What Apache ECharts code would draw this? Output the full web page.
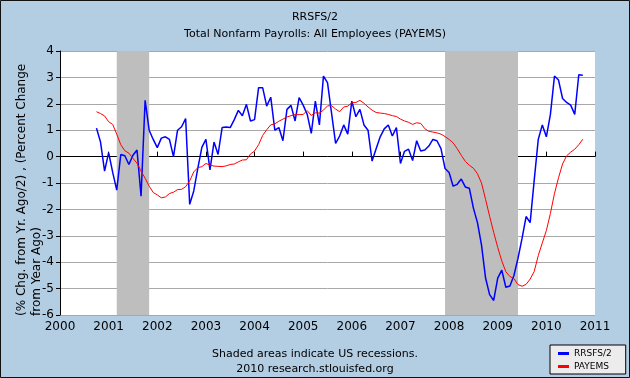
<!DOCTYPE html>
<html>
<head>
<meta charset="utf-8">
<script src="https://cdn.jsdelivr.net/npm/echarts@6/dist/echarts.min.js"></script>
<style>
  html, body { margin: 0; padding: 0; background: #b3cde3; }
  #chart { width: 630px; height: 378px; }
</style>
</head>
<body>
<div id="chart"></div>
<script>
// monthly data, Oct 2000 .. Oct 2010
var startYear = 2000
var startMonth = 10

var rrsfs = [
  1.08, 0.55, -0.55, 0.15, -0.6, -1.27, 0.08, 0.03, -0.3, 0.05, 0.25, -1.5,
  2.13, 1.0, 0.65, 0.34, 0.7, 0.75, 0.65, 0.0, 1.0, 1.13, 1.44, -1.81,
  -1.3, -0.45, 0.35, 0.65, -0.5, 0.55, 0.08, 1.1, 1.12, 1.1, 1.4, 1.75,
  1.55, 1.98, 1.35, 1.4, 2.61, 2.61, 1.91, 2.25, 1.0, 1.1, 0.6, 1.79,
  1.94, 1.35, 2.23, 1.95, 1.6, 0.88, 2.1, 1.2, 3.05, 2.8, 1.65, 0.5,
  0.78, 1.2, 0.85, 2.1, 1.51, 1.79, 1.2, 1.0, -0.17, 0.3, 0.75, 1.05,
  1.2, 0.78, 1.1, -0.26, 0.2, 0.28, -0.15, 0.6, 0.21, 0.25, 0.4, 0.65,
  0.6, 0.3, -0.45, -0.6, -1.12, -1.05, -0.85, -1.15, -1.2, -1.95, -2.5, -3.35,
  -4.6, -5.23, -5.45, -4.6, -4.3, -4.95, -4.9, -4.5, -3.85, -3.1, -2.27, -2.5,
  -0.9, 0.65, 1.2, 0.75, 1.6, 3.05, 2.9, 2.2, 2.05, 1.95, 1.6, 3.1,
  3.08
]

var payems = [
  1.70, 1.63, 1.54, 1.32, 1.22, 0.85, 0.45, 0.22, 0.13, -0.07, -0.25, -0.55,
  -0.82, -1.12, -1.36, -1.45, -1.56, -1.53, -1.40, -1.35, -1.25, -1.24, -1.14, -0.92,
  -0.58, -0.42, -0.38, -0.26, -0.32, -0.36, -0.37, -0.38, -0.35, -0.3, -0.28, -0.2,
  -0.13, -0.12, 0.1, 0.21, 0.45, 0.8, 1.02, 1.2, 1.24, 1.34, 1.42, 1.5,
  1.55, 1.59, 1.59, 1.6, 1.74, 1.56, 1.66, 1.65, 1.76, 1.92, 1.93, 1.8,
  1.7, 1.88, 1.91, 2.04, 2.05, 2.13, 2.02, 1.88, 1.76, 1.67, 1.65, 1.63,
  1.6, 1.55, 1.52, 1.42, 1.35, 1.3, 1.22, 1.28, 1.26, 1.06, 0.96, 0.93,
  0.9, 0.85, 0.76, 0.65, 0.52, 0.3, 0.05, -0.18, -0.33, -0.44, -0.65, -1.0,
  -1.62, -2.26, -2.87, -3.44, -3.95, -4.36, -4.54, -4.62, -4.85, -4.91, -4.84, -4.64,
  -4.35, -3.75, -3.27, -2.8, -2.15, -1.4, -0.8, -0.28, 0.03, 0.17, 0.28, 0.45,
  0.66
]

// recession start / end as decimal years
var recessions = [[2001.167, 2001.833], [2007.917, 2009.417]]

function monthX(i) {
  var m = startMonth - 1 + i
  return startYear + Math.floor(m / 12) + (m % 12) / 12
}

function pairs(values) {
  return values.map(function(v, i) { return [monthX(i), v] })
}

var font = 'DejaVu Sans, Verdana, sans-serif'
var chart = echarts.init(document.getElementById('chart'))

chart.setOption({
  backgroundColor: '#b3cde3',
  animation: false,
  textStyle: { fontFamily: font, color: '#000' },
  title: [
    { text: 'RRSFS/2', left: 'center', top: 7,
      textStyle: { fontSize: 11, fontWeight: 'normal', color: '#000', fontFamily: font } },
    { text: 'Total Nonfarm Payrolls: All Employees (PAYEMS)', left: 'center', top: 24,
      textStyle: { fontSize: 11, fontWeight: 'normal', color: '#000', fontFamily: font } },
    { text: 'Shaded areas indicate US recessions.', left: 'center', top: 344,
      textStyle: { fontSize: 11, fontWeight: 'normal', color: '#000', fontFamily: font } },
    { text: '2010 research.stlouisfed.org', left: 'center', top: 359,
      textStyle: { fontSize: 11, fontWeight: 'normal', color: '#000', fontFamily: font } }
  ],
  grid: { left: 60, right: 35, top: 51, bottom: 63, show: true, backgroundColor: '#fff', borderWidth: 0 },
  legend: {
    orient: 'vertical',
    left: 550, top: 345,
    width: 60,
    backgroundColor: '#ececec',
    borderColor: '#000',
    borderWidth: 1,
    borderRadius: 0,
    padding: [4, 14, 3, 8],
    itemGap: 4,
    itemWidth: 11,
    itemHeight: 3,
    icon: 'rect',
    textStyle: { fontSize: 9, color: '#000', fontFamily: font },
    data: ['RRSFS/2', 'PAYEMS']
  },
  xAxis: {
    type: 'value',
    min: 2000,
    max: 2011,
    interval: 1,
    axisLine: { lineStyle: { color: '#000', width: 1 } },
    axisTick: { inside: true, length: 5, lineStyle: { color: '#000' } },
    axisLabel: { color: '#000', fontSize: 12, margin: 6, formatter: function(v) { return String(v) } },
    splitLine: { show: false }
  },
  yAxis: {
    type: 'value',
    min: -6,
    max: 4,
    interval: 1,
    axisLine: { show: true, lineStyle: { color: '#000', width: 1 } },
    axisTick: { show: true, length: 4, lineStyle: { color: '#000' } },
    axisLabel: { color: '#000', fontSize: 12, margin: 6 },
    splitLine: { lineStyle: { color: '#a8a8a8', width: 1 } }
  },
  graphic: [
    { type: 'rect', shape: { x: 0.5, y: 0.5, width: 629, height: 377 },
      style: { fill: 'none', stroke: '#111', lineWidth: 1 }, z: 100 },
    { type: 'text', x: 22, y: 316, rotation: Math.PI / 2,
      style: { text: '(% Chg. from Yr. Ago/2) , (Percent Change', font: '12px ' + font,
        fill: '#000', textAlign: 'left', textVerticalAlign: 'middle' } },
    { type: 'text', x: 37, y: 316, rotation: Math.PI / 2,
      style: { text: 'from Year Ago)', font: '12px ' + font,
        fill: '#000', textAlign: 'left', textVerticalAlign: 'middle' } }
  ],
  series: [
    {
      name: 'RRSFS/2',
      type: 'line',
      showSymbol: false,
      color: '#0000ff',
      lineStyle: { color: '#0000ff', width: 1.5 },
      data: pairs(rrsfs),
      z: 3,
      markArea: {
        silent: true,
        itemStyle: { color: '#bebebe', opacity: 1 },
        data: recessions.map(function(r) { return [{ xAxis: r[0] }, { xAxis: r[1] }] })
      }
    },
    {
      name: 'PAYEMS',
      type: 'line',
      showSymbol: false,
      color: '#ff0000',
      lineStyle: { color: '#ff0000', width: 1 },
      data: pairs(payems),
      z: 4
    }
  ]
})
</script>
</body>
</html>
